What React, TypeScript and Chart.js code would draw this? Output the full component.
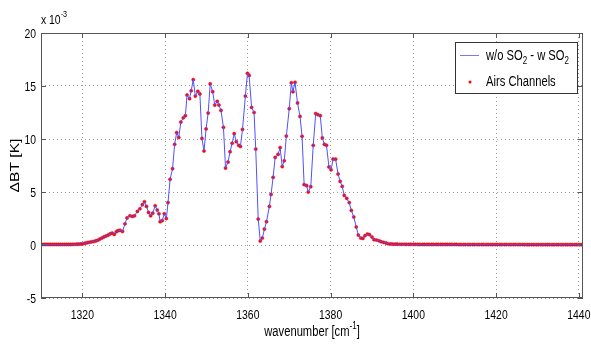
import React, { useEffect, useRef } from "react";
import { Chart, registerables } from "chart.js";
Chart.register(...registerables);

// AIRS channel wavenumbers [cm^-1]
const wavenumbers = [
  1310.2, 1310.7, 1311.2, 1311.7, 1312.2, 1312.7, 1313.2, 1313.7, 1314.2, 1314.7,
  1315.2, 1315.7, 1316.2, 1316.7, 1317.2, 1317.7, 1318.2, 1318.7, 1319.2, 1319.7,
  1320.2, 1320.7, 1321.2, 1321.7, 1322.2, 1322.7, 1323.2, 1323.7, 1324.2, 1324.7,
  1325.2, 1325.7, 1326.2, 1326.7, 1327.2, 1327.7, 1328.2, 1328.6, 1329.1, 1329.7,
  1330.3, 1330.8, 1331.5, 1332.1, 1332.6, 1333.3, 1333.9, 1334.5, 1335.0, 1335.5,
  1336.0, 1336.5, 1337.0, 1337.6, 1338.1, 1338.5, 1338.8, 1339.3, 1339.8, 1340.3,
  1340.7, 1341.2, 1341.8, 1342.3, 1342.8, 1343.3, 1343.8, 1344.4, 1344.9, 1345.3,
  1345.9, 1346.3, 1346.8, 1347.3, 1347.9, 1348.4, 1348.9, 1349.4, 1349.9, 1350.4,
  1350.9, 1351.5, 1352.0, 1352.6, 1353.0, 1353.5, 1354.1, 1354.6, 1355.2, 1355.7,
  1356.2, 1356.7, 1357.2, 1357.8, 1358.2, 1358.7, 1359.4, 1359.9, 1360.3, 1360.9,
  1361.5, 1361.9, 1362.5, 1363.0, 1363.5, 1364.0, 1364.5, 1365.2, 1365.6, 1366.1,
  1366.6, 1367.3, 1367.8, 1368.3, 1368.8, 1369.3, 1370.0, 1370.5, 1370.9, 1371.4,
  1372.0, 1372.6, 1373.1, 1373.6, 1374.2, 1374.6, 1375.2, 1375.8, 1376.4, 1376.9,
  1377.5, 1378.0, 1378.5, 1379.0, 1379.6, 1380.1, 1380.6, 1381.2, 1381.8, 1382.3,
  1382.8, 1383.3, 1383.9, 1384.5, 1385.0, 1385.6, 1386.2, 1386.7, 1387.3, 1387.8,
  1388.3, 1388.9, 1389.4, 1390.0, 1390.5, 1391.1, 1391.7, 1392.2, 1392.8, 1393.4,
  1393.9, 1394.5, 1395.0, 1395.6, 1396.1, 1396.7, 1397.2, 1397.8, 1398.3, 1398.9,
  1399.4, 1400.0, 1400.5, 1401.1, 1401.6, 1402.2, 1402.7, 1403.3, 1403.8, 1404.4,
  1404.9, 1405.5, 1406.0, 1406.6, 1407.1, 1407.7, 1408.2, 1408.8, 1409.3, 1409.9,
  1410.4, 1411.0, 1411.5, 1412.1, 1412.6, 1413.2, 1413.7, 1414.3, 1414.8, 1415.4,
  1415.9, 1416.5, 1417.0, 1417.6, 1418.1, 1418.7, 1419.2, 1419.8, 1420.3, 1420.9,
  1421.4, 1422.0, 1422.5, 1423.1, 1423.6, 1424.2, 1424.7, 1425.3, 1425.8, 1426.4,
  1426.9, 1427.5, 1428.0, 1428.6, 1429.1, 1429.7, 1430.2, 1430.8, 1431.3, 1431.9,
  1432.4, 1432.9, 1433.5, 1434.0, 1434.6, 1435.1, 1435.7, 1436.2, 1436.8, 1437.3,
  1437.9, 1438.4, 1439.0, 1439.5, 1440.1, 1440.6,
];

// Delta BT (w/o SO2 - w SO2), in units of 1e-3 K
const deltaBT = [
  0.05, 0.05, 0.05, 0.05, 0.05, 0.05, 0.05, 0.05, 0.05, 0.05,
  0.05, 0.05, 0.05, 0.05, 0.05, 0.06, 0.07, 0.08, 0.09, 0.10,
  0.12, 0.17, 0.22, 0.26, 0.30, 0.33, 0.38, 0.45, 0.56, 0.66,
  0.76, 0.85, 0.93, 1.05, 1.12, 1.00, 1.25, 1.35, 1.38, 1.28,
  2.00, 2.55, 2.76, 2.70, 2.76, 3.17, 3.42, 3.80, 4.08, 3.64,
  3.07, 2.76, 3.00, 3.70, 3.30, 2.95, 2.20, 2.30, 2.95, 2.50,
  4.00, 6.20, 7.20, 9.50, 10.60, 10.15, 11.60, 12.00, 12.20, 14.15,
  13.80, 14.55, 15.60, 14.05, 14.50, 14.25, 10.05, 8.87, 10.95, 12.45,
  15.20, 14.46, 13.20, 13.55, 13.20, 12.70, 11.10, 7.26, 7.83, 8.80,
  9.60, 10.50, 9.75, 9.40, 9.30, 10.90, 14.05, 16.20, 16.00, 12.98,
  12.50, 9.05, 2.45, 0.38, 0.66, 1.50, 2.20, 3.64, 4.77, 6.38,
  8.26, 8.55, 9.18, 7.40, 7.95, 10.28, 12.86, 15.30, 14.46, 15.34,
  13.40, 12.13, 10.25, 5.70, 5.60, 5.00, 5.50, 9.40, 12.40, 12.30,
  12.20, 10.10, 9.50, 9.40, 7.36, 7.10, 8.10, 8.10, 6.70, 6.00,
  5.53, 4.68, 4.40, 4.00, 3.26, 2.64, 1.70, 0.94, 0.66, 0.62,
  0.88, 1.04, 0.97, 0.75, 0.50, 0.47, 0.40, 0.31, 0.25, 0.19,
  0.12, 0.10, 0.09, 0.08, 0.08, 0.07, 0.07, 0.07, 0.06, 0.06,
  0.06, 0.06, 0.06, 0.05, 0.05, 0.05, 0.05, 0.05, 0.05, 0.05,
  0.05, 0.05, 0.05, 0.05, 0.05, 0.05, 0.05, 0.05, 0.05, 0.05,
  0.05, 0.04, 0.04, 0.04, 0.04, 0.04, 0.04, 0.04, 0.04, 0.04,
  0.04, 0.04, 0.04, 0.04, 0.04, 0.04, 0.04, 0.04, 0.04, 0.04,
  0.04, 0.04, 0.04, 0.04, 0.04, 0.04, 0.04, 0.04, 0.04, 0.04,
  0.03, 0.03, 0.03, 0.03, 0.03, 0.03, 0.03, 0.03, 0.03, 0.03,
  0.03, 0.03, 0.03, 0.03, 0.03, 0.03, 0.03, 0.03, 0.03, 0.03,
  0.03, 0.03, 0.03, 0.03, 0.03, 0.03,
];

const xTicks = [1320, 1340, 1360, 1380, 1400, 1420, 1440];
const yTicks = [-5, 0, 5, 10, 15, 20];

const FONT = '"Liberation Sans", Arial, sans-serif';
const NARROW = 0.8;
const LINE_COLOR = "rgb(80, 80, 255)";
const MARK_COLOR = "rgb(255, 0, 0)";
const AXIS_COLOR = "#555555";

type Part = { t: string; mode?: "sub" | "sup" };

// draw text horizontally condensed (emulates a narrow Helvetica)
function drawParts(
  ctx: CanvasRenderingContext2D,
  parts: Part[],
  x: number,
  y: number,
  size: number,
  align: "left" | "center" | "right"
) {
  const small = Math.round(size * 0.72);
  const widthOf = (p: Part) => {
    ctx.font = `${p.mode ? small : size}px ${FONT}`;
    return ctx.measureText(p.t).width * NARROW;
  };
  let total = 0;
  for (const p of parts) total += widthOf(p);
  let cx = align === "center" ? x - total / 2 : align === "right" ? x - total : x;
  for (const p of parts) {
    const w = widthOf(p);
    ctx.font = `${p.mode ? small : size}px ${FONT}`;
    const dy = p.mode === "sub" ? 4 : p.mode === "sup" ? -7 : 0;
    ctx.save();
    ctx.translate(cx, y + dy);
    ctx.scale(NARROW, 1);
    ctx.textAlign = "left";
    ctx.textBaseline = "alphabetic";
    ctx.fillText(p.t, 0, 0);
    ctx.restore();
    cx += w;
  }
}

const matlabPlugin = {
  id: "matlabDecor",
  afterDatasetsDraw(chart: any) {
    const { ctx, chartArea: a, scales } = chart;
    ctx.save();
    ctx.setLineDash([]);
    ctx.strokeStyle = AXIS_COLOR;
    ctx.lineWidth = 1;
    ctx.strokeRect(a.left + 0.5, a.top + 0.5, a.right - a.left - 1, a.bottom - a.top - 1);
    ctx.beginPath();
    for (const v of xTicks) {
      const x = Math.round(scales.x.getPixelForValue(v)) + 0.5;
      ctx.moveTo(x, a.bottom);
      ctx.lineTo(x, a.bottom - 5);
      ctx.moveTo(x, a.top);
      ctx.lineTo(x, a.top + 5);
    }
    for (const v of yTicks) {
      const y = Math.round(scales.y.getPixelForValue(v)) + 0.5;
      ctx.moveTo(a.left, y);
      ctx.lineTo(a.left + 5, y);
      ctx.moveTo(a.right, y);
      ctx.lineTo(a.right - 5, y);
    }
    ctx.stroke();
    ctx.restore();
  },
  afterDraw(chart: any) {
    const { ctx, chartArea: a, scales } = chart;
    ctx.save();
    ctx.fillStyle = "#000";
    // tick labels
    for (const v of xTicks) {
      const x = scales.x.getPixelForValue(v);
      drawParts(ctx, [{ t: String(v) }], x, a.bottom + 21, 13, "center");
    }
    for (const v of yTicks) {
      const y = scales.y.getPixelForValue(v);
      drawParts(ctx, [{ t: String(v) }], a.left - 5, y + 5, 13, "right");
    }
    // exponent label
    drawParts(ctx, [{ t: "x 10" }, { t: "-3", mode: "sup" }], a.left, 24, 13, "left");
    // x title
    drawParts(
      ctx,
      [{ t: "wavenumber [cm" }, { t: "-1", mode: "sup" }, { t: "]" }],
      (a.left + a.right) / 2,
      336,
      14,
      "center"
    );
    // y title
    ctx.save();
    ctx.translate(19, (a.top + a.bottom) / 2);
    ctx.rotate(-Math.PI / 2);
    ctx.scale(1.2, 1);
    ctx.font = `13px ${FONT}`;
    ctx.textAlign = "center";
    ctx.textBaseline = "alphabetic";
    ctx.fillText("\u0394BT [K]", 0, 0);
    ctx.restore();

    // legend
    const lx = 455, ly = 42, lw = 122, lh = 51;
    ctx.fillStyle = "#fff";
    ctx.fillRect(lx, ly, lw, lh);
    ctx.strokeStyle = "#333";
    ctx.lineWidth = 1;
    ctx.strokeRect(lx + 0.5, ly + 0.5, lw, lh);
    ctx.strokeStyle = "rgb(120,120,255)";
    ctx.beginPath();
    ctx.moveTo(460, 55.5);
    ctx.lineTo(479, 55.5);
    ctx.stroke();
    ctx.fillStyle = MARK_COLOR;
    ctx.beginPath();
    ctx.arc(470, 82, 1.5, 0, Math.PI * 2);
    ctx.fill();
    ctx.fillStyle = "#000";
    drawParts(
      ctx,
      [{ t: "w/o SO" }, { t: "2", mode: "sub" }, { t: " - w SO" }, { t: "2", mode: "sub" }],
      486,
      60,
      14,
      "left"
    );
    drawParts(ctx, [{ t: "Airs Channels" }], 486, 86, 14, "left");
    ctx.restore();
  },
};

export default function App() {
  const ref = useRef<HTMLCanvasElement | null>(null);
  useEffect(() => {
    if (!ref.current) return;
    const points = wavenumbers.map((w, i) => ({ x: w, y: deltaBT[i] }));
    const chart = new Chart(ref.current, {
      type: "line",
      data: {
        datasets: [
          {
            label: "w/o SO2 - w SO2",
            data: points,
            borderColor: LINE_COLOR,
            borderWidth: 1,
            pointRadius: 0,
            tension: 0,
            fill: false,
          },
          {
            label: "Airs Channels",
            data: points,
            showLine: false,
            pointStyle: "circle",
            pointRadius: 1.6,
            pointBackgroundColor: MARK_COLOR,
            pointBorderColor: MARK_COLOR,
            pointBorderWidth: 0.5,
          },
        ],
      },
      options: {
        animation: false,
        responsive: false,
        devicePixelRatio: 1,
        layout: { padding: { top: 33, right: 8, left: 0, bottom: 0 } },
        plugins: { legend: { display: false }, tooltip: { enabled: false }, title: { display: false } },
        scales: {
          x: {
            type: "linear",
            min: 1310,
            max: 1441,
            afterBuildTicks: (s: any) => {
              s.ticks = xTicks.map((v) => ({ value: v }));
            },
            afterFit: (s: any) => {
              s.height = 58;
            },
            grid: { color: "#9a9a9a", drawTicks: false, lineWidth: 1 },
            border: { display: false, dash: [1, 3] },
            ticks: { display: false },
          },
          y: {
            type: "linear",
            min: -5,
            max: 20,
            afterBuildTicks: (s: any) => {
              s.ticks = yTicks.map((v) => ({ value: v }));
            },
            afterFit: (s: any) => {
              s.width = 41;
            },
            grid: { color: "#9a9a9a", drawTicks: false, lineWidth: 1 },
            border: { display: false, dash: [1, 3] },
            ticks: { display: false },
          },
        },
      },
      plugins: [matlabPlugin],
    });
    return () => chart.destroy();
  }, []);
  return (
    <div style={{ position: "fixed", left: 0, top: 0, width: 591, height: 356, background: "#fff" }}>
      <canvas ref={ref} width={591} height={356} style={{ width: 591, height: 356 }} />
    </div>
  );
}
